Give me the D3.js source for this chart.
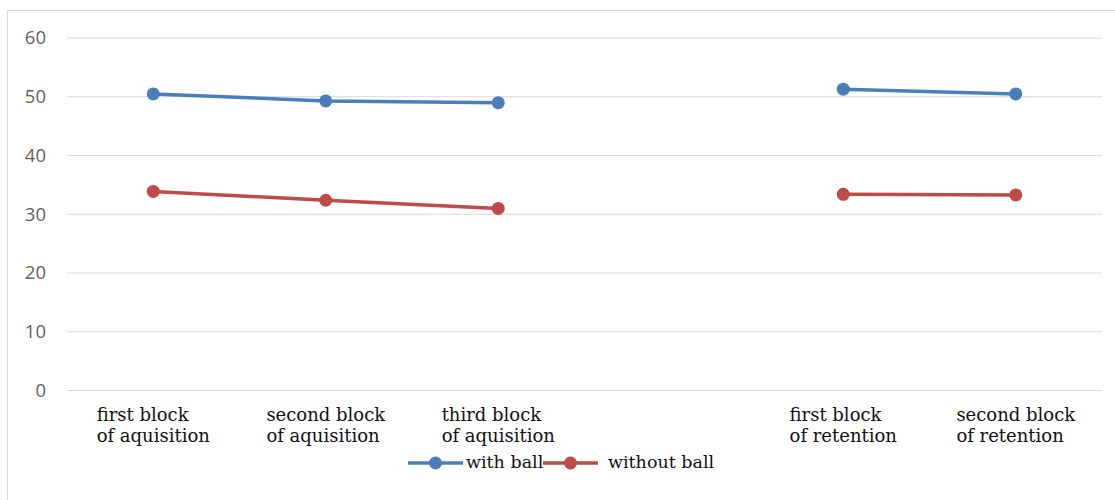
<!DOCTYPE html>
<html>
<head>
<meta charset="utf-8">
<script src="https://cdn.jsdelivr.net/npm/d3@7"></script>
<style>
  html, body { margin: 0; padding: 0; background: #fff; }
  svg { display: block; }
</style>
</head>
<body>
<script>
// Block labels (the fourth slot is an empty spacer between phases)
const categories = [
  ["first block", "of aquisition"],
  ["second block", "of aquisition"],
  ["third block", "of aquisition"],
  [],
  ["first block", "of retention"],
  ["second block", "of retention"]
];
const withBall    = [50.4, 49.2, 48.9, null, 51.2, 50.4];
const withoutBall = [33.8, 32.3, 30.9, null, 33.3, 33.2];
const yTicks = [0, 10, 20, 30, 40, 50, 60];
const seriesNames = ["with ball", "without ball"];

const W = 1115, H = 500;
const svg = d3.select("body").append("svg").attr("width", W).attr("height", H);

// outer frame (top and left edges visible)
svg.append("path")
  .attr("d", `M7.5,${H} V10.5 H${W}`)
  .attr("fill", "none").attr("stroke", "#d9d9d9").attr("stroke-width", 1);

const x = d3.scaleBand().domain(d3.range(categories.length)).range([67, 1102]).padding(0);
const y = d3.scaleLinear().domain([0, 60]).range([390, 37.5]);
const cx = i => x(i) + x.bandwidth() / 2;

// gridlines + y labels
const yAxis = d3.axisLeft(y).tickValues(yTicks).tickSize(-(1102 - 67)).tickPadding(21);
const gy = svg.append("g").attr("transform", "translate(67,0)").call(yAxis);
gy.select(".domain").remove();
gy.selectAll(".tick line").attr("stroke", "#d9d9d9").attr("stroke-width", 1);
gy.selectAll(".tick text")
  .attr("font-family", "'Open Sans', sans-serif")
  .attr("font-size", 18.5)
  .attr("fill", "#5f5f5f")
  .attr("dy", "0.34em");

// category labels: two-line blocks, left aligned, centred on each slot
const serif = "'DejaVu Serif', serif";
const lab = svg.append("g").attr("font-family", serif).attr("font-size", 18).attr("fill", "#111");
categories.forEach((lines, i) => {
  if (!lines.length) return;
  const t = lab.append("text").attr("y", 421);
  lines.forEach((s, k) => {
    t.append("tspan").attr("x", 0).attr("dy", k === 0 ? 0 : 21).text(s);
  });
  const wMax = d3.max(t.selectAll("tspan").nodes(), n => n.getComputedTextLength());
  t.selectAll("tspan").attr("x", cx(i) - wMax / 2);
});

// series
const colors = ["#4a7ebb", "#be4b48"];
[withBall, withoutBall].forEach((vals, s) => {
  const line = d3.line()
    .defined(d => d != null)
    .x((d, i) => cx(i))
    .y(d => y(d));
  svg.append("path")
    .attr("d", line(vals))
    .attr("fill", "none")
    .attr("stroke", colors[s])
    .attr("stroke-width", 3.5)
    .attr("stroke-linejoin", "round");
  svg.append("g").selectAll("circle")
    .data(vals.map((v, i) => ({ v, i })).filter(d => d.v != null))
    .join("circle")
    .attr("cx", d => cx(d.i))
    .attr("cy", d => y(d.v))
    .attr("r", 6.5)
    .attr("fill", colors[s]);
});

// legend
const legend = svg.append("g").attr("font-family", serif).attr("font-size", 17.5).attr("fill", "#111");
const legItems = [
  { x0: 408, x1: 463, tx: 466 },
  { x0: 543, x1: 598, tx: 608 }
];
legItems.forEach((it, s) => {
  const ly = 463;
  legend.append("line")
    .attr("x1", it.x0).attr("x2", it.x1).attr("y1", ly).attr("y2", ly)
    .attr("stroke", colors[s]).attr("stroke-width", 3.5);
  legend.append("circle")
    .attr("cx", (it.x0 + it.x1) / 2).attr("cy", ly).attr("r", 6.5).attr("fill", colors[s]);
  legend.append("text").attr("x", it.tx).attr("y", ly + 5).text(seriesNames[s]);
});
</script>
</body>
</html>
